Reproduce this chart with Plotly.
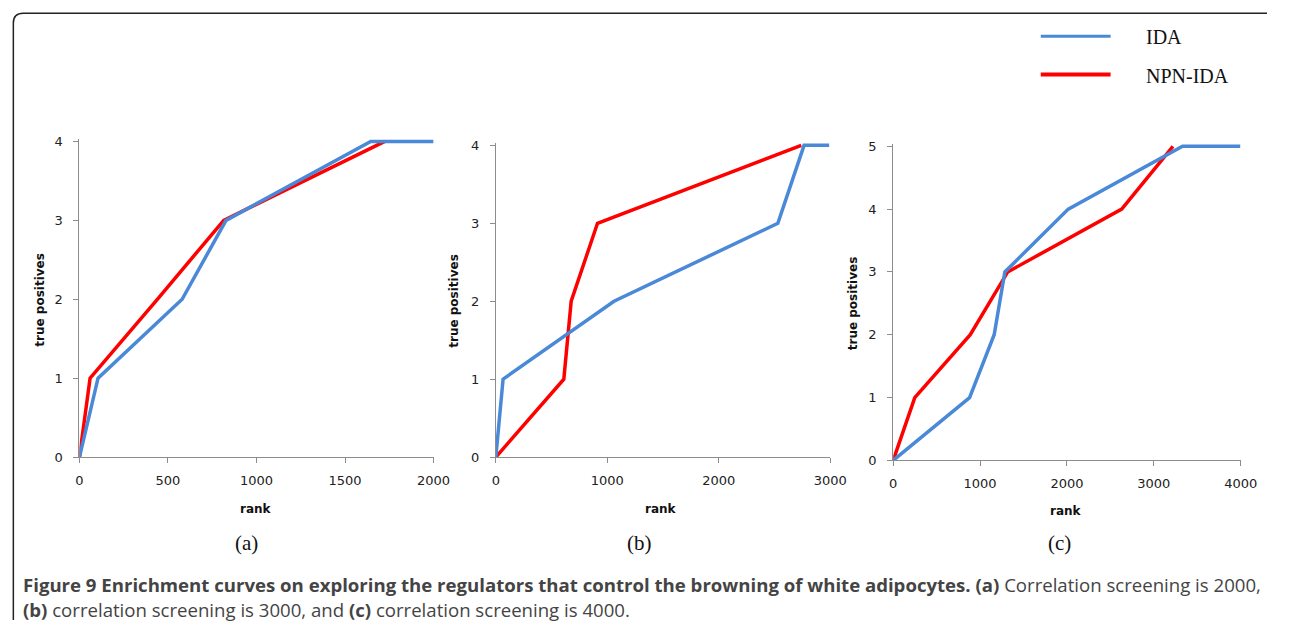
import plotly.graph_objects as go

# ---------------- data ----------------
a_rank_ida = [0, 105, 580, 828, 1645, 2000]
a_tp_ida = [0, 1, 2, 3, 4, 4]
a_rank_npn = [0, 60, 440, 815, 1725]
a_tp_npn = [0, 1, 2, 3, 4]

b_rank_ida = [0, 65, 1060, 2530, 2765, 2990]
b_tp_ida = [0, 1, 2, 3, 4, 4]
b_rank_npn = [0, 610, 676, 912, 2740]
b_tp_npn = [0, 1, 2, 3, 4]

c_rank_ida = [0, 879, 1162, 1285, 2015, 3330, 3995]
c_tp_ida = [0, 1, 2, 3, 4, 5, 5]
c_rank_npn = [0, 248, 887, 1318, 2630, 3220]
c_tp_npn = [0, 1, 2, 3, 4, 5]

x_ticks_a = [0, 500, 1000, 1500, 2000]
x_ticks_b = [0, 1000, 2000, 3000]
x_ticks_c = [0, 1000, 2000, 3000, 4000]
y_ticks_ab = [0, 1, 2, 3, 4]
y_ticks_c = [0, 1, 2, 3, 4, 5]

panel_labels = ["(a)", "(b)", "(c)"]
series_names = ["IDA", "NPN-IDA"]
caption_line1 = ("<b>Figure 9 Enrichment curves on exploring the regulators that control the browning "
                 "of white adipocytes. (a)</b> Correlation screening is 2000,")
caption_line2 = "<b>(b)</b> correlation screening is 3000, and <b>(c)</b> correlation screening is 4000."

# ---------------- layout helpers ----------------
# figure kept slightly inside the 1290x636 window so the page never overflows
W, H = 1284, 628
BLUE = "#4a88d8"
RED = "#ff0000"
AXIS = "#8c8c8c"


def px(x):
    return x / W


def py(y):
    return 1 - y / H


panels = [
    dict(x0=76.7, x1=436.7, ytop=139.3, ybot=461.7, xmax=2000, ymax=4,
         xt=x_ticks_a, yt=y_ticks_ab,
         rx=[a_rank_npn, a_rank_ida], ry=[a_tp_npn, a_tp_ida],
         ytitle_x=37, xtitle=(256, 515), lab=(247, 549)),
    dict(x0=500, x1=840, ytop=143.3, ybot=461.7, xmax=3000, ymax=4,
         xt=x_ticks_b, yt=y_ticks_ab,
         rx=[b_rank_npn, b_rank_ida], ry=[b_tp_npn, b_tp_ida],
         ytitle_x=458, xtitle=(668, 515), lab=(646, 549)),
    dict(x0=904, x1=1257.3, ytop=144.3, ybot=465, xmax=4000, ymax=5,
         xt=x_ticks_c, yt=y_ticks_c,
         rx=[c_rank_npn, c_rank_ida], ry=[c_tp_npn, c_tp_ida],
         ytitle_x=863, xtitle=(1080, 517), lab=(1073, 549)),
]

fig = go.Figure()
annotations = []
shapes = []


def ann(text, x, y, size, family, color="#111", xanchor="center", angle=0):
    annotations.append(dict(text=text, x=px(x), y=py(y), xref="paper", yref="paper",
                            xanchor=xanchor, yanchor="middle", textangle=angle,
                            showarrow=False, align="left",
                            font=dict(family=family, size=size, color=color)))


for i, p in enumerate(panels, start=1):
    xa = "x" if i == 1 else f"x{i}"
    ya = "y" if i == 1 else f"y{i}"
    ppu = (p["ybot"] - p["ytop"]) / p["ymax"]
    pad = 2.5
    ymax_r = p["ymax"] + pad / ppu
    top_px = p["ybot"] - ymax_r * ppu
    # red first, blue drawn on top
    for k, (name, color) in enumerate([("NPN-IDA", RED), ("IDA", BLUE)]):
        fig.add_trace(go.Scatter(
            x=p["rx"][k], y=p["ry"][k], mode="lines", name=name,
            line=dict(color=color, width=3.5), showlegend=False,
            xaxis=xa, yaxis=ya, hoverinfo="skip"))
    xkey = "xaxis" if i == 1 else f"xaxis{i}"
    ykey = "yaxis" if i == 1 else f"yaxis{i}"
    common = dict(ticks="outside", ticklen=5, tickcolor=AXIS, showline=True,
                  linecolor=AXIS, linewidth=1, showgrid=False, zeroline=False,
                  tickfont=dict(family="DejaVu Sans", size=13, color="#222"))
    fig.update_layout(**{
        xkey: dict(domain=[px(p["x0"]), px(p["x1"])], range=[0, p["xmax"]],
                   anchor=ya, tickvals=p["xt"], ticklabelstandoff=6, **common),
        ykey: dict(domain=[py(p["ybot"]), py(top_px)], range=[0, ymax_r],
                   anchor=xa, tickvals=p["yt"], ticklabelstandoff=8, **common),
    })
    ann("<b>true positives</b>", p["ytitle_x"], (p["ytop"] + p["ybot"]) / 2, 12,
        "DejaVu Sans", angle=-90)
    ann("<b>rank</b>", p["xtitle"][0], p["xtitle"][1], 12, "DejaVu Sans")
    ann(panel_labels[i - 1], p["lab"][0], p["lab"][1], 21, "Liberation Serif")

# legend (drawn manually to match the original placement)
for (name, color, yy, lw) in [(series_names[0], BLUE, 32, 3), (series_names[1], RED, 71, 4)]:
    shapes.append(dict(type="line", xref="paper", yref="paper",
                       x0=px(1054), x1=px(1125), y0=py(yy), y1=py(yy),
                       line=dict(color=color, width=lw)))
    ann(name, 1159, yy + 1, 20, "Liberation Serif", xanchor="left")

# caption
ann(caption_line1, 17, 592, 18.6, "Open Sans", color="#444", xanchor="left")
ann(caption_line2, 17, 617, 18.6, "Open Sans", color="#444", xanchor="left")

# rounded frame (right and bottom sides fall outside the picture)
L, T, r = 9.5, 8.5, 10
path = (f"M {px(L)},{py(H)} L {px(L)},{py(T + r)} Q {px(L)},{py(T)} {px(L + r)},{py(T)} "
        f"L {px(W)},{py(T)}")
shapes.append(dict(type="path", path=path, xref="paper", yref="paper",
                   line=dict(color="#222", width=1.5)))

fig.update_layout(width=W, height=H, autosize=False,
                  margin=dict(l=0, r=0, t=0, b=0, pad=0),
                  paper_bgcolor="white", plot_bgcolor="white",
                  annotations=annotations, shapes=shapes, showlegend=False)

fig.write_html("out.html")
